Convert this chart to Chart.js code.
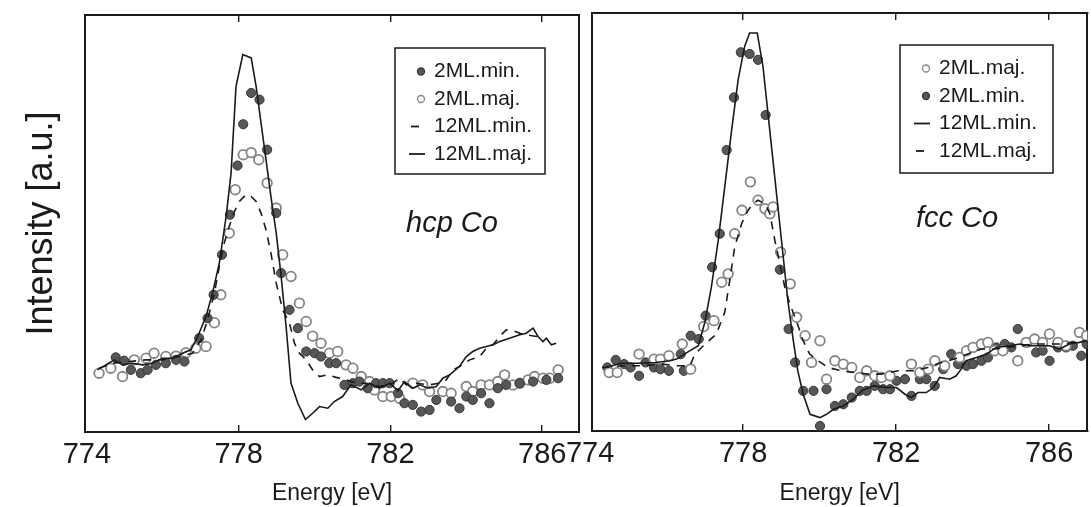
<!DOCTYPE html>
<html>
<head>
<meta charset="utf-8">
<script src="https://cdn.jsdelivr.net/npm/chart.js@4.4.1/dist/chart.umd.min.js"></script>
<style>
  html, body { margin: 0; padding: 0; background: #fff; }
  #wrap { position: relative; width: 1091px; height: 507px; overflow: hidden; }
  canvas { position: absolute; top: 0; }
  #hcp { left: 0; }
  #fcc { left: 540px; }
</style>
</head>
<body>
<div id="wrap">
  <canvas id="hcp" width="586" height="507"></canvas>
  <canvas id="fcc" width="554" height="507"></canvas>
</div>
<script>
const FONT = '"Liberation Sans", Arial, Helvetica, sans-serif';
const INK = '#1a1a1a';
const tickValues = [774, 778, 782, 786];

// hcp Co panel (left)
const hcpMin2E = [774.76, 774.98, 775.16, 775.42, 775.60, 775.82, 776.08, 776.35, 776.57, 776.96, 777.18, 777.34, 777.56, 777.77, 777.97, 778.12, 778.33, 778.55, 778.75, 778.99, 779.12, 779.34, 779.56, 779.78, 780.00, 780.17, 780.39, 780.57, 780.79, 781.01, 781.18, 781.40, 781.62, 781.80, 781.98, 782.20, 782.37, 782.59, 782.81, 783.03, 783.21, 783.60, 783.82, 784.00, 784.17, 784.39, 784.61, 784.83, 785.05, 785.41, 785.76, 786.11, 786.42];
const hcpMin2I = [17.9, 17.1, 14.9, 14.1, 14.9, 16.1, 16.5, 17.3, 16.9, 22.5, 27.3, 32.9, 42.5, 52.1, 63.9, 73.8, 81.3, 79.7, 67.7, 52.5, 38.1, 29.3, 24.9, 19.3, 18.9, 18.1, 16.5, 16.5, 11.3, 11.7, 12.1, 10.5, 11.7, 11.7, 11.7, 9.3, 6.9, 6.5, 4.9, 5.3, 7.7, 7.3, 5.7, 8.5, 7.7, 9.3, 6.9, 10.5, 11.3, 11.7, 12.1, 12.5, 12.9];

const hcpMaj2E = [774.32, 774.63, 774.94, 775.25, 775.56, 775.77, 776.08, 776.35, 776.61, 776.87, 777.14, 777.36, 777.53, 777.75, 777.91, 778.12, 778.33, 778.53, 778.75, 778.99, 779.16, 779.38, 779.60, 779.78, 779.95, 780.17, 780.39, 780.61, 780.83, 781.01, 781.23, 781.45, 781.58, 781.80, 782.02, 782.24, 782.59, 782.85, 783.03, 783.38, 783.60, 784.00, 784.17, 784.39, 784.61, 784.83, 785.01, 785.23, 785.41, 785.63, 785.80, 786.02, 786.20, 786.42];
const hcpMaj2I = [14.1, 15.3, 13.3, 17.3, 17.7, 18.9, 18.1, 18.2, 19.0, 20.1, 20.5, 26.2, 32.9, 47.7, 58.1, 66.5, 67.0, 65.3, 59.7, 53.7, 42.5, 37.3, 30.9, 26.5, 23.0, 21.3, 18.9, 19.3, 16.1, 15.3, 13.3, 12.1, 10.1, 8.5, 8.5, 8.1, 11.7, 11.3, 9.7, 9.7, 9.3, 10.9, 9.7, 11.3, 11.3, 12.1, 13.7, 11.3, 11.7, 12.5, 13.3, 12.9, 12.9, 14.9];

const hcpMin12E = [774.32, 774.68, 775.12, 775.56, 775.99, 776.43, 776.79, 777.01, 777.18, 777.36, 777.49, 777.62, 777.75, 777.89, 778.02, 778.19, 778.33, 778.46, 778.59, 778.72, 778.85, 778.99, 779.16, 779.34, 779.47, 779.60, 779.78, 779.95, 780.13, 780.35, 780.57, 780.83, 781.10, 781.36, 781.71, 782.06, 782.24, 782.42, 782.68, 783.03, 783.29, 783.47, 783.65, 783.82, 784.09, 784.35, 784.53, 784.70, 784.88, 785.05, 785.23, 785.41, 785.58, 785.85, 786.02];
const hcpMin12I = [15.3, 16.5, 16.9, 17.3, 17.3, 18.1, 18.9, 22.1, 26.9, 33.3, 39.7, 45.3, 49.3, 52.9, 55.3, 56.9, 56.5, 55.3, 52.5, 48.5, 42.9, 35.7, 29.3, 26.1, 21.3, 18.9, 17.3, 14.9, 13.3, 13.7, 13.1, 12.5, 11.7, 11.7, 10.9, 11.7, 12.9, 11.3, 11.7, 11.3, 11.7, 12.5, 14.9, 15.7, 17.3, 18.1, 20.1, 20.9, 22.9, 24.5, 24.3, 23.7, 23.3, 22.9, 22.5];

const hcpMaj12E = [774.28, 774.50, 774.72, 774.94, 775.20, 775.47, 775.73, 775.99, 776.26, 776.52, 776.74, 776.92, 777.14, 777.31, 777.49, 777.67, 777.80, 777.93, 778.11, 778.33, 778.46, 778.59, 778.72, 778.85, 778.99, 779.12, 779.25, 779.38, 779.56, 779.76, 779.95, 780.13, 780.35, 780.52, 780.74, 780.96, 781.23, 781.45, 781.71, 781.98, 782.20, 782.37, 782.59, 782.77, 782.99, 783.21, 783.38, 783.56, 783.82, 784.00, 784.17, 784.35, 784.53, 784.70, 784.88, 785.14, 785.41, 785.58, 785.76, 785.89, 786.02, 786.11, 786.24, 786.37];
const hcpMaj12I = [14.9, 16.1, 17.3, 16.1, 16.5, 16.1, 16.5, 17.7, 17.7, 18.9, 19.7, 22.9, 27.7, 33.3, 40.5, 51.7, 62.1, 82.9, 90.5, 89.7, 82.9, 74.1, 65.3, 56.5, 47.7, 37.3, 25.3, 11.7, 6.9, 3.0, 4.5, 6.1, 5.7, 7.3, 8.5, 11.3, 10.1, 11.7, 10.5, 11.7, 9.9, 12.1, 10.5, 11.3, 10.5, 10.9, 12.9, 13.7, 15.7, 18.1, 19.3, 20.1, 20.5, 20.9, 21.7, 22.5, 23.3, 23.7, 24.9, 22.9, 21.7, 22.5, 20.9, 21.3];

// fcc Co panel (right)
const fccMaj2E = [774.50, 774.71, 775.28, 775.67, 775.84, 776.06, 776.41, 776.63, 776.97, 777.24, 777.44, 777.61, 777.78, 777.97, 778.19, 778.39, 778.57, 778.70, 778.78, 778.98, 779.23, 779.40, 779.62, 779.79, 780.01, 780.18, 780.40, 780.62, 780.84, 781.05, 781.23, 781.44, 781.62, 781.84, 782.40, 782.62, 782.84, 783.01, 783.27, 783.66, 783.84, 784.01, 784.23, 784.40, 784.57, 784.79, 785.18, 785.40, 785.62, 785.83, 786.01, 786.23, 786.44, 786.79, 786.98];
const fccMaj2I = [14.0, 14.0, 18.4, 17.2, 17.2, 18.0, 20.8, 14.8, 25.0, 26.4, 35.6, 37.6, 47.2, 52.8, 59.6, 55.2, 53.2, 52.0, 53.6, 42.8, 35.2, 27.2, 22.8, 16.4, 21.6, 12.4, 16.8, 16.0, 15.2, 12.8, 14.4, 13.2, 12.8, 13.2, 16.0, 14.0, 14.8, 16.8, 15.6, 17.6, 19.2, 20.0, 20.8, 21.2, 19.2, 19.2, 16.8, 21.2, 22.0, 21.2, 23.2, 21.2, 20.4, 23.6, 22.8];

const fccMin2E = [774.45, 774.67, 774.89, 775.06, 775.28, 775.45, 775.67, 775.84, 776.06, 776.37, 776.45, 776.63, 776.84, 777.02, 777.19, 777.39, 777.57, 777.76, 777.94, 778.17, 778.39, 778.59, 778.96, 779.19, 779.36, 779.57, 779.84, 780.01, 780.18, 780.40, 780.62, 780.84, 781.05, 781.23, 781.44, 781.66, 781.84, 782.01, 782.23, 782.40, 782.62, 782.79, 783.01, 783.23, 783.44, 783.62, 783.84, 784.01, 784.23, 784.40, 784.62, 784.84, 785.01, 785.18, 785.44, 785.66, 785.83, 786.01, 786.23, 786.44, 786.62, 786.84, 786.98];
const fccMin2I = [15.2, 17.0, 16.0, 15.2, 13.2, 16.4, 15.2, 14.8, 14.4, 18.4, 14.4, 22.8, 22.0, 27.6, 39.2, 47.2, 67.2, 79.8, 90.6, 90.2, 88.8, 75.6, 38.6, 24.4, 16.4, 9.6, 9.6, 1.2, 10.0, 6.0, 6.4, 8.0, 9.6, 9.6, 10.8, 10.0, 10.0, 12.0, 12.4, 8.4, 12.4, 12.4, 10.8, 14.8, 18.4, 16.0, 15.6, 16.0, 16.8, 17.6, 20.0, 20.8, 20.0, 24.4, 21.2, 18.8, 19.2, 16.8, 20.0, 20.0, 20.4, 18.0, 20.8];

const fccMin12E = [774.39, 774.83, 775.26, 775.70, 776.09, 776.26, 776.57, 776.83, 777.00, 777.17, 777.35, 777.52, 777.70, 777.87, 778.04, 778.17, 778.37, 778.52, 778.65, 778.78, 778.91, 779.04, 779.17, 779.30, 779.43, 779.57, 779.75, 780.01, 780.18, 780.36, 780.62, 780.88, 781.10, 781.40, 781.75, 782.01, 782.23, 782.40, 782.57, 782.79, 782.97, 783.14, 783.40, 783.57, 783.70, 783.83, 784.10, 784.36, 784.62, 784.97, 785.23, 785.49, 785.75, 786.01, 786.27, 786.53, 786.79, 786.98];
const fccMin12I = [15.2, 16.2, 16.2, 16.4, 16.8, 17.2, 19.0, 20.4, 26.0, 34.4, 45.6, 58.4, 72.0, 84.0, 92.0, 95.2, 95.2, 87.2, 76.0, 64.8, 53.6, 42.4, 31.2, 22.4, 14.4, 8.8, 4.0, 3.2, 4.0, 5.2, 6.0, 7.6, 9.6, 10.8, 10.4, 10.4, 8.8, 8.0, 9.2, 9.2, 10.4, 12.8, 12.4, 13.2, 14.8, 16.8, 17.6, 18.4, 20.0, 20.4, 20.8, 20.4, 20.4, 20.4, 19.6, 20.8, 21.2, 21.6];

const fccMaj12E = [774.31, 774.83, 775.35, 775.87, 776.31, 776.61, 776.74, 776.96, 777.30, 777.52, 777.65, 777.78, 777.96, 778.13, 778.26, 778.39, 778.57, 778.70, 778.83, 778.96, 779.09, 779.22, 779.39, 779.57, 779.74, 779.96, 780.22, 780.57, 780.91, 781.26, 781.61, 782.04, 782.48, 782.83, 783.17, 783.52, 783.87, 784.22, 784.57, 784.91, 785.26, 785.61, 785.96, 786.30, 786.65, 786.98];
const fccMaj12I = [15.2, 15.6, 15.6, 16.0, 15.6, 15.6, 18.4, 20.4, 23.2, 28.4, 36.0, 44.0, 49.6, 52.8, 54.4, 55.2, 54.4, 52.0, 45.6, 40.0, 34.4, 30.4, 26.4, 21.6, 18.4, 16.8, 15.2, 14.4, 14.0, 13.6, 13.6, 14.4, 14.4, 15.2, 16.4, 17.2, 18.4, 19.6, 19.6, 20.0, 20.4, 20.8, 20.8, 20.8, 21.2, 21.6];

function zip(energies, values) {
  return energies.map((x, k) => ({ x, y: values[k] }));
}

function pointSet(label, energies, values, filled) {
  const fill = filled ? '#575757' : '#ffffff';
  const edge = filled ? '#383838' : '#858585';
  return {
    label,
    data: zip(energies, values),
    showLine: false,
    order: 1,
    pointRadius: filled ? 4.6 : 4.8,
    pointHoverRadius: 4.8,
    pointBorderWidth: filled ? 1 : 1.8,
    pointBackgroundColor: fill,
    pointBorderColor: edge,
    backgroundColor: fill,
    borderColor: edge,
  };
}

function lineSet(label, energies, values, dashed) {
  return {
    label,
    data: zip(energies, values),
    borderColor: INK,
    borderWidth: 1.6,
    borderDash: dashed ? [8, 7] : [],
    pointRadius: 0,
    tension: 0,
    order: 0,
  };
}

// legend box and sample name, placed inside the plot
const panelLegend = {
  id: 'panelLegend',
  afterDraw(chart, _args, opts) {
    const { ctx, chartArea } = chart;
    const bx = chartArea.left + opts.box.x;
    const by = chartArea.top + opts.box.y;
    ctx.save();
    ctx.lineWidth = 1.5;
    ctx.strokeStyle = INK;
    ctx.setLineDash([]);
    ctx.strokeRect(bx, by, opts.box.w, opts.box.h);
    ctx.font = `21px ${FONT}`;
    ctx.textBaseline = 'middle';
    ctx.textAlign = 'left';
    chart.data.datasets.forEach((ds, i) => {
      const cy = by + 23.5 + i * 27.5;
      const sx = bx + 26;
      if (ds.showLine === false) {
        ctx.beginPath();
        ctx.arc(sx, cy, 3.5, 0, Math.PI * 2);
        ctx.fillStyle = ds.pointBackgroundColor;
        ctx.fill();
        ctx.lineWidth = 1.3;
        ctx.strokeStyle = ds.pointBorderColor;
        ctx.stroke();
      } else {
        // a dashed line shows as one short dash, a solid one as a longer bar
        const x0 = ds.borderDash.length ? sx - 10 : sx - 12;
        const x1 = ds.borderDash.length ? sx - 2 : sx + 4;
        ctx.lineWidth = 1.8;
        ctx.strokeStyle = INK;
        ctx.beginPath();
        ctx.moveTo(x0, cy);
        ctx.lineTo(x1, cy);
        ctx.stroke();
      }
      ctx.fillStyle = INK;
      ctx.fillText(ds.label, bx + 39, cy);
    });
    ctx.font = `italic 29px ${FONT}`;
    ctx.textAlign = 'center';
    ctx.fillText(opts.tag, chartArea.left + opts.tagX, chartArea.top + opts.tagY);
    ctx.restore();
  },
};

function setTicks(axis) {
  axis.ticks = tickValues.map((value) => ({ value }));
}

// inner tick marks, none at the 774 edge
function tickColor(context) {
  return context.tick && context.tick.value === 774 ? 'rgba(0,0,0,0)' : INK;
}

function makeScales(xMin, xMax, yTitle, yWidth, xHeight) {
  const frame = { color: INK, width: 2 };
  return {
    x: {
      type: 'linear',
      position: 'bottom',
      min: xMin,
      max: xMax,
      afterBuildTicks: setTicks,
      afterFit(axis) { axis.height = xHeight; },
      grid: { drawOnChartArea: false, tickLength: -7, color: tickColor, lineWidth: 1.4 },
      border: frame,
      ticks: { color: INK, padding: 13, font: { family: FONT, size: 29 }, maxRotation: 0, autoSkip: false },
      title: { display: true, text: 'Energy [eV]', color: INK, font: { family: FONT, size: 23 }, padding: { top: 0, bottom: 0 } },
    },
    xTop: {
      type: 'linear',
      position: 'top',
      min: xMin,
      max: xMax,
      afterBuildTicks: setTicks,
      afterFit(axis) { axis.height = 0; },
      grid: { drawOnChartArea: false, tickLength: -7, color: tickColor, lineWidth: 1.4 },
      border: frame,
      ticks: { display: false },
    },
    y: {
      type: 'linear',
      position: 'left',
      min: 0,
      max: 100,
      afterFit(axis) { axis.width = yWidth; },
      grid: { drawOnChartArea: false, drawTicks: false },
      border: frame,
      ticks: { display: false },
      title: { display: !!yTitle, text: yTitle, color: INK, font: { family: FONT, size: 36 }, padding: { top: 20, bottom: 0 } },
    },
    yRight: {
      type: 'linear',
      position: 'right',
      min: 0,
      max: 100,
      afterFit(axis) { axis.width = 0; },
      grid: { drawOnChartArea: false, drawTicks: false },
      border: frame,
      ticks: { display: false },
    },
  };
}

function makeChart(canvas, datasets, scales, padding, legendOpts) {
  return new Chart(canvas, {
    type: 'line',
    data: { datasets },
    options: {
      responsive: false,
      animation: false,
      events: [],
      layout: { padding },
      scales,
      plugins: {
        legend: { display: false },
        tooltip: { enabled: false },
        panelLegend: legendOpts,
      },
    },
    plugins: [panelLegend],
  });
}

makeChart(
  document.getElementById('hcp'),
  [
    pointSet('2ML.min.', hcpMin2E, hcpMin2I, true),
    pointSet('2ML.maj.', hcpMaj2E, hcpMaj2I, false),
    lineSet('12ML.min.', hcpMin12E, hcpMin12I, true),
    lineSet('12ML.maj.', hcpMaj12E, hcpMaj12I, false),
  ],
  makeScales(773.95, 786.97, 'Intensity [a.u.]', 85, 75),
  { top: 15, right: 7, bottom: 0, left: 0 },
  { box: { x: 310, y: 33, w: 150, h: 126 }, tag: 'hcp Co', tagX: 367, tagY: 209 },
);

makeChart(
  document.getElementById('fcc'),
  [
    pointSet('2ML.maj.', fccMaj2E, fccMaj2I, false),
    pointSet('2ML.min.', fccMin2E, fccMin2I, true),
    lineSet('12ML.min.', fccMin12E, fccMin12I, false),
    lineSet('12ML.maj.', fccMaj12E, fccMaj12I, true),
  ],
  makeScales(774.05, 787.0, '', 52, 76),
  { top: 13, right: 2, bottom: 0, left: 0 },
  { box: { x: 308, y: 32, w: 153, h: 128 }, tag: 'fcc Co', tagX: 365, tagY: 206 },
);
</script>
</body>
</html>
